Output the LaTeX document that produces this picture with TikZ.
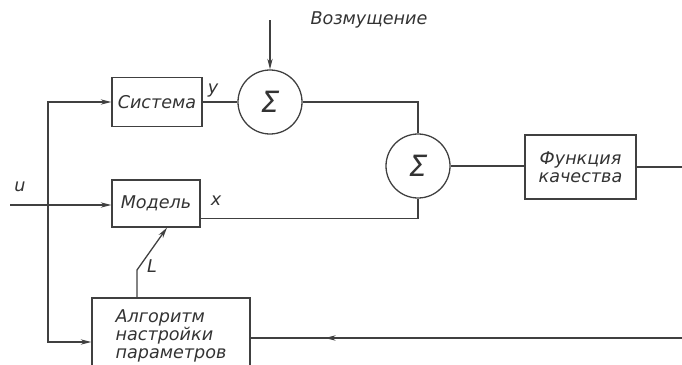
\documentclass[tikz,border=0pt]{standalone}
\usepackage{fontspec}
\setmainfont{DejaVu Sans}
\usetikzlibrary{arrows.meta}

\begin{document}
\begin{tikzpicture}[x=0.03cm,y=-0.03cm,>={Stealth[length=3.2mm,width=1.6mm]},
    line width=1.1pt,draw=black!75,
    every node/.style={font=\fontsize{15}{15.5}\selectfont\itshape,text=black!80},
    blockbox/.style={draw,rectangle,inner sep=0pt},
    sumnode/.style={draw,circle,minimum size=1.92cm,inner sep=0pt,
        font=\fontsize{25}{25}\selectfont\itshape}]
    \useasboundingbox (0,0) rectangle (682,364);
    \clip (0,0) rectangle (682,364);

    % Blocks
    \node[blockbox,minimum width=2.7cm,minimum height=1.47cm] (sys) at (157,102) {Система};
    \node[blockbox,minimum width=2.64cm,minimum height=1.41cm] (model) at (156,203.5) {Модель};
    \node[blockbox,minimum width=3.33cm,minimum height=1.92cm,align=center] (qual) at (580.5,167)
        {Функция\\качества};
    \node[blockbox,minimum width=4.74cm,minimum height=2.28cm,align=left] (algo) at (171,336)
        {Алгоритм\\настройки\\параметров};

    % Summators
    \node[sumnode] (sum1) at (270,102) {Σ};
    \node[sumnode] (sum2) at (418,166) {Σ};

    % Disturbance
    \coordinate (dist) at (270,20);
    \node (distlbl) at (369,20) {Возмущение};
    \draw[->] (dist) -- (sum1.north);

    % Forward paths
    \draw (sys.east) -- (sum1.west) node[pos=0.3,above] (ylbl) {y};
    \draw (sum1.east) -| (sum2.north);
    \draw ([yshift=-4.6mm]model.east) -| (sum2.south);
    \node (xlbl) at (216,201) {x};
    \draw (sum2.east) -- (sum2.east -| qual.west);

    % Input u and feedback of u
    \coordinate (uin) at (10,205);
    \node (ulbl) at (20,187) {u};
    \draw[->] (uin) -- (uin -| model.west);
    \coordinate (fb) at (48,205);
    \draw[<->] (sys.west) -| (fb) |- ([yshift=-1.8mm]algo.west);

    % Return from quality function
    \coordinate (c1) at (690,167);
    \coordinate (c2) at (690,338);
    \coordinate (ret) at (325,338);
    \draw (qual.east) -- (c1) -- (c2) -- (c2 -| algo.east);
    \draw[->] (c2) -- (ret);

    % Parameter setting L
    \coordinate (lbend) at (137,270);
    \draw[->] ([xshift=-1.02cm]algo.north) -- (lbend) -- ([xshift=0.33cm]model.south);
    \node (llbl) at (152,266) {L};
\end{tikzpicture}
\end{document}
